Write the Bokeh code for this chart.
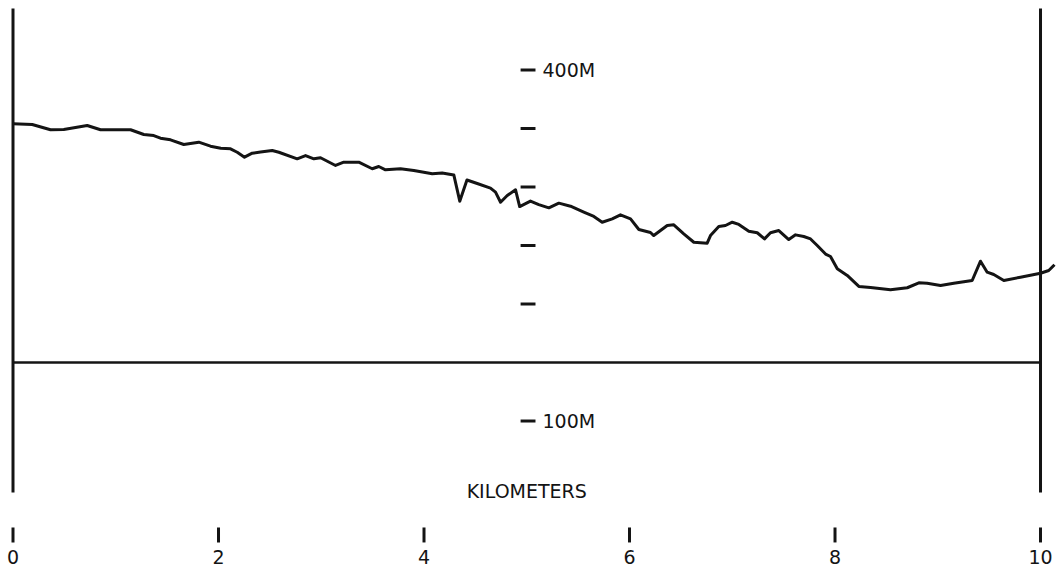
from bokeh.plotting import figure
from bokeh.models import Range1d
from bokeh.core.properties import value
from bokeh.embed import file_html
from bokeh.resources import INLINE

# ---- data ----
profile_km = [0.000, 0.187, 0.365, 0.494, 0.722, 0.852, 1.144, 1.273, 1.370, 1.435,
              1.533, 1.662, 1.808, 1.922, 2.022, 2.117, 2.182, 2.253, 2.328, 2.409,
              2.523, 2.587, 2.766, 2.847, 2.928, 2.993, 3.139, 3.219, 3.365, 3.496,
              3.560, 3.625, 3.771, 3.901, 4.080, 4.177, 4.290, 4.348, 4.418, 4.518,
              4.647, 4.696, 4.745, 4.810, 4.891, 4.931, 5.036, 5.117, 5.215, 5.312,
              5.426, 5.555, 5.653, 5.734, 5.832, 5.912, 6.010, 6.091, 6.204, 6.236,
              6.367, 6.431, 6.528, 6.626, 6.756, 6.788, 6.869, 6.934, 7.000, 7.064,
              7.161, 7.243, 7.314, 7.372, 7.453, 7.550, 7.616, 7.696, 7.762, 7.827,
              7.908, 7.956, 8.022, 8.119, 8.232, 8.346, 8.540, 8.703, 8.816, 8.897,
              9.027, 9.156, 9.335, 9.416, 9.481, 9.545, 9.643, 9.805, 10.000, 10.080,
              10.136]
profile_elev_m = [354.0, 353.4, 348.9, 349.1, 352.6, 348.9, 348.9, 344.9, 344.0, 341.7,
                  340.3, 336.3, 338.3, 334.9, 333.2, 332.6, 329.7, 325.5, 328.9, 329.9,
                  331.2, 329.7, 324.1, 326.9, 324.1, 325.0, 318.4, 321.2, 321.2, 315.6,
                  317.5, 314.7, 315.6, 314.1, 311.3, 312.0, 310.3, 287.9, 306.0, 303.0,
                  299.1, 295.6, 287.0, 292.7, 297.6, 283.3, 288.0, 285.0, 282.2, 286.2,
                  283.6, 278.5, 274.8, 269.9, 272.8, 276.2, 272.8, 263.7, 261.1, 258.5,
                  267.1, 267.7, 260.0, 252.8, 252.0, 258.5, 266.2, 267.1, 269.9, 268.0,
                  262.2, 260.9, 255.7, 260.9, 262.8, 255.1, 259.1, 257.7, 255.6, 250.0,
                  242.7, 240.6, 230.1, 224.4, 215.0, 214.1, 212.1, 213.9, 218.1, 217.8,
                  215.8, 217.8, 220.1, 236.6, 227.2, 225.2, 220.1, 222.9, 226.3, 228.6,
                  233.5]

x_ticks_km = [0, 2, 4, 6, 8, 10]
x_tick_labels = ["0", "2", "4", "6", "8", "10"]
y_ticks_m = [400, 350, 300, 250, 200, 100]
y_label_values = [400, 100]
y_label_texts = ["400M", "100M"]
reference_level_m = 150
x_title = "KILOMETERS"

INK = "#141414"
FONT = value("DejaVu Sans")

p = figure(width=1062, height=567, output_backend="svg", toolbar_location=None,
           x_axis_type=None, y_axis_type=None, min_border=0,
           x_range=Range1d(-0.1217, 10.214), y_range=Range1d(-25.2, 459.4))
p.outline_line_color = None
p.background_fill_color = "white"
p.border_fill_color = "white"
p.xgrid.visible = False
p.ygrid.visible = False

# frame: left / right vertical lines and reference level line
x0, x1 = x_ticks_km[0], x_ticks_km[-1]
p.segment(x0=[x0, x1], y0=[38.9, 38.9], x1=[x0, x1], y1=[452.6, 452.6],
          line_color=INK, line_width=3)
p.segment(x0=[x0], y0=[reference_level_m], x1=[x1], y1=[reference_level_m],
          line_color=INK, line_width=2.5)

# elevation profile
p.line(profile_km, profile_elev_m, line_color=INK, line_width=3, line_join="round")

# elevation tick dashes (center scale)
p.segment(x0=[4.94] * len(y_ticks_m), y0=y_ticks_m,
          x1=[5.085] * len(y_ticks_m), y1=y_ticks_m,
          line_color=INK, line_width=3)
p.text(x=[5.153] * len(y_label_values), y=y_label_values, text=y_label_texts,
       text_font=FONT, text_font_size="19px", text_color=INK,
       text_align="left", text_baseline="alphabetic", y_offset=-0.5)

# distance ticks and labels
p.segment(x0=x_ticks_km, y0=[9.0] * len(x_ticks_km), x1=x_ticks_km,
          y1=[-3.8] * len(x_ticks_km), line_color=INK, line_width=3)
p.text(x=x_ticks_km, y=[-21.8] * len(x_ticks_km), text=x_tick_labels,
       text_font=FONT, text_font_size="19px", text_color=INK,
       text_align="center", text_baseline="alphabetic", y_offset=-7)

# axis title
p.text(x=[5.0], y=[33.8], text=[x_title], text_font=FONT, text_font_size="19px",
       text_color=INK, text_align="center", text_baseline="alphabetic", y_offset=-7)

open("out.html", "w").write(file_html(p, INLINE))
